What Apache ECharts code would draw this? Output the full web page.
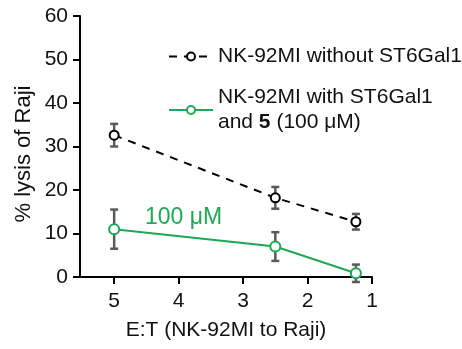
<!DOCTYPE html>
<html>
<head>
<meta charset="utf-8">
<script src="https://cdn.jsdelivr.net/npm/echarts@6/dist/echarts.min.js"></script>
<style>html,body{margin:0;padding:0;background:#fff}#chart{width:462px;height:349px}</style>
</head>
<body>
<div id="chart"></div>
<script>
//E:T 比例
var ratios = [5, 2.5, 1.25];
var x_ticks = [5, 4, 3, 2, 1];
//without ST6Gal1
var without_mean = [32.6, 18.2, 12.7];
var without_err = [2.6, 2.5, 1.8];
//with ST6Gal1 + 5
var with5_mean = [11.0, 7.0, 0.85];
var with5_err = [4.5, 3.3, 2.0];

var green = '#1fa855';
var font = 'Liberation Sans, Arial, sans-serif';

function pairs(xs, ys){
	var out = [];
	for(var i=0;i<xs.length;i++) out.push([xs[i], ys[i]]);
	return out;
}
function err_rows(xs, ys, es){
	var out = [];
	for(var i=0;i<xs.length;i++) out.push([xs[i], ys[i]-es[i], ys[i]+es[i]]);
	return out;
}
//误差棒绘制
function render_err(params, api){
	var lo = api.coord([api.value(0), api.value(1)]);
	var hi = api.coord([api.value(0), api.value(2)]);
	var w = 4;
	var st = {stroke: '#5a5a5a', lineWidth: 2.5};
	return {
		type: 'group',
		children: [
			{type: 'line', shape: {x1: lo[0], y1: lo[1], x2: hi[0], y2: hi[1]}, style: st},
			{type: 'line', shape: {x1: lo[0]-w, y1: lo[1], x2: lo[0]+w, y2: lo[1]}, style: st},
			{type: 'line', shape: {x1: hi[0]-w, y1: hi[1], x2: hi[0]+w, y2: hi[1]}, style: st}
		]
	};
}

var myChart = echarts.init(document.getElementById('chart'));
myChart.setOption({
	animation: false,
	textStyle: {fontFamily: font},
	grid: {left: 80, right: 90, top: 16, bottom: 72},
	legend: {
		orient: 'vertical',
		left: 163, top: 39,
		itemWidth: 44, itemHeight: 10, itemGap: 16,
		textStyle: {fontSize: 21, color: '#111', lineHeight: 25, padding: [0,0,0,0],
			rich: {b: {fontWeight: 'bold', fontSize: 21, lineHeight: 25}}},
		data: ['without', 'with5'],
		formatter: function(name){
			if(name === 'without') return 'NK-92MI without ST6Gal1';
			return 'NK-92MI with ST6Gal1\nand {b|5} (100 μM)';
		}
	},
	xAxis: {
		type: 'value', inverse: true, min: 1, max: 5.53,
		name: 'E:T (NK-92MI to Raji)', nameLocation: 'middle', nameGap: 43,
		nameTextStyle: {fontSize: 21, color: '#111'},
		axisLine: {lineStyle: {color: '#000', width: 2}},
		axisTick: {customValues: x_ticks, length: 7, lineStyle: {color: '#000', width: 2}},
		axisLabel: {customValues: x_ticks, fontSize: 21, color: '#111', margin: 14},
		splitLine: {show: false}
	},
	yAxis: {
		type: 'value', min: 0, max: 60, interval: 10,
		axisLine: {show: true, lineStyle: {color: '#000', width: 2}},
		axisTick: {show: true, length: 7, lineStyle: {color: '#000', width: 2}},
		axisLabel: {fontSize: 21, color: '#111', margin: 12},
		splitLine: {show: false}
	},
	graphic: [
		{
			type: 'text', left: 145, top: 206,
			style: {text: '100 μM', fontSize: 23, fill: green, fontFamily: font}
		},
		{
			type: 'text', x: 24, y: 154, rotation: Math.PI/2,
			style: {text: '% lysis of Raji', fontSize: 22, fill: '#111', fontFamily: font,
				align: 'center', verticalAlign: 'middle'}
		}
	],
	series: [
		{
			type: 'custom', renderItem: render_err, z: 1, silent: true,
			data: err_rows(ratios, without_mean, without_err)
		},
		{
			type: 'custom', renderItem: render_err, z: 1, silent: true,
			data: err_rows(ratios, with5_mean, with5_err)
		},
		{
			name: 'without', type: 'line', z: 3,
			data: pairs(ratios, without_mean),
			symbol: 'emptyCircle', symbolSize: 9,
			lineStyle: {color: '#000', width: 2, type: [8, 7]},
			itemStyle: {color: '#000', borderWidth: 2}
		},
		{
			name: 'with5', type: 'line', z: 3,
			data: pairs(ratios, with5_mean),
			symbol: 'emptyCircle', symbolSize: 10,
			lineStyle: {color: green, width: 2},
			itemStyle: {color: green, borderWidth: 2}
		}
	]
});
</script>
</body>
</html>
